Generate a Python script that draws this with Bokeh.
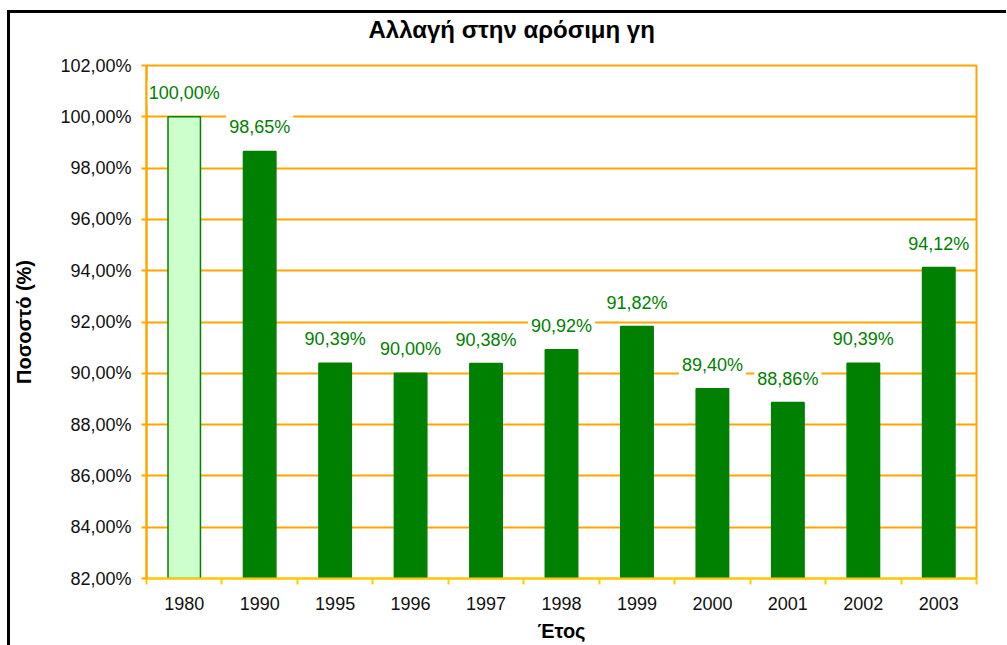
from bokeh.plotting import figure
from bokeh.models import (FactorRange, Range1d, LinearAxis, FixedTicker, Title,
                          CustomJSTickFormatter, ColumnDataSource)
from bokeh.core.properties import value
from bokeh.embed import file_html
from bokeh.resources import INLINE

# ---- data ----
years = ["1980", "1990", "1995", "1996", "1997", "1998", "1999", "2000", "2001", "2002", "2003"]
percent = [100.00, 98.65, 90.39, 90.00, 90.38, 90.92, 91.82, 89.40, 88.86, 90.39, 94.12]
y_ticks = [82, 84, 86, 88, 90, 92, 94, 96, 98, 100, 102]
title_text = "Αλλαγή στην αρόσιμη γη"
y_label = "Ποσοστό (%)"
x_label = "Έτος"

# ---- styles ----
FONT = "Liberation Sans"
DARK = "#008000"
LIGHT = "#CCFFCC"
ORANGE = "#FFA500"
YELLOW = "#FFCC00"

fills = [LIGHT] + [DARK] * (len(years) - 1)
labels = [f"{v:.2f}".replace(".", ",") + "%" for v in percent]
src = ColumnDataSource(dict(year=years, percent=percent, fill=fills, label=labels))

p = figure(x_range=FactorRange(*years), y_range=Range1d(y_ticks[0], y_ticks[-1]),
           frame_width=830, frame_height=513, output_backend="svg", toolbar_location=None,
           min_border_left=136, min_border_right=30, min_border_top=52, min_border_bottom=67)
p.styles = {"margin-left": "7px", "margin-top": "10px",
            "border-left": "3px solid black", "border-top": "3px solid black"}

p.background_fill_color = "white"
p.border_fill_color = "white"
p.outline_line_color = ORANGE
p.outline_line_width = 2

# spacer between frame and title (nearest the frame)
p.add_layout(Title(text=" ", text_font_size="1px", standoff=20), "above")

# title
p.title.text = title_text
p.title.align = "left"
p.title.offset = 222
p.title.text_font = FONT
p.title.text_font_size = "24px"
p.title.text_font_style = "bold"
p.title.text_color = "black"
p.title.standoff = 0

# bars
p.vbar(x="year", top="percent", bottom=y_ticks[0], width=0.43, source=src,
       fill_color="fill", line_color=DARK, line_width=1.5)

# value labels
p.text(x="year", y="percent", text="label", source=src,
       text_align="center", text_baseline="middle", y_offset=-24,
       text_color=DARK, text_font=value(FONT), text_font_size="18px",
       background_fill_color="white", padding=3)

# y axis
yt = FixedTicker(ticks=y_ticks)
p.yaxis.ticker = yt
p.yaxis.formatter = CustomJSTickFormatter(code="return tick.toFixed(2).replace('.', ',') + '%';")
p.yaxis.axis_line_color = ORANGE
p.yaxis.axis_line_width = 2
p.yaxis.major_tick_line_color = ORANGE
p.yaxis.major_tick_line_width = 2
p.yaxis.major_tick_out = 5
p.yaxis.major_tick_in = 0
p.yaxis.minor_tick_line_color = None
p.yaxis.major_label_text_font = FONT
p.yaxis.major_label_text_font_size = "18px"
p.yaxis.major_label_text_color = "#111111"
p.yaxis.major_label_standoff = 10
p.yaxis.axis_label = y_label
p.yaxis.axis_label_text_font = FONT
p.yaxis.axis_label_text_font_size = "20px"
p.yaxis.axis_label_text_font_style = "bold"
p.yaxis.axis_label_text_color = "black"
p.yaxis.axis_label_standoff = 22

p.ygrid.ticker = yt
p.ygrid.grid_line_color = ORANGE
p.ygrid.grid_line_width = 2
p.xgrid.grid_line_color = None

# x axis: category labels
cat_axis = p.xaxis[0]
cat_axis.axis_line_color = None
cat_axis.major_tick_line_color = None
cat_axis.major_label_text_font = FONT
cat_axis.major_label_text_font_size = "18px"
cat_axis.major_label_text_color = "#111111"
cat_axis.major_label_standoff = 6
cat_axis.axis_label = x_label
cat_axis.axis_label_text_font = FONT
cat_axis.axis_label_text_font_size = "20px"
cat_axis.axis_label_text_font_style = "bold"
cat_axis.axis_label_text_color = "black"
cat_axis.axis_label_standoff = 7

# x axis: boundary ticks between categories (synthetic coordinates 0..n)
edge_axis = LinearAxis(ticker=FixedTicker(ticks=list(range(len(years) + 1))),
                       formatter=CustomJSTickFormatter(code="return '';"))
edge_axis.axis_line_color = YELLOW
edge_axis.axis_line_width = 2
edge_axis.major_tick_line_color = YELLOW
edge_axis.major_tick_line_width = 2
edge_axis.major_tick_out = 6
edge_axis.major_tick_in = 0
edge_axis.minor_tick_line_color = None
edge_axis.major_label_text_font_size = "0px"
edge_axis.major_label_standoff = 0
p.add_layout(edge_axis, "below")
p.below = [edge_axis] + [a for a in p.below if a is not edge_axis]

open("out.html", "w").write(file_html(p, INLINE))
